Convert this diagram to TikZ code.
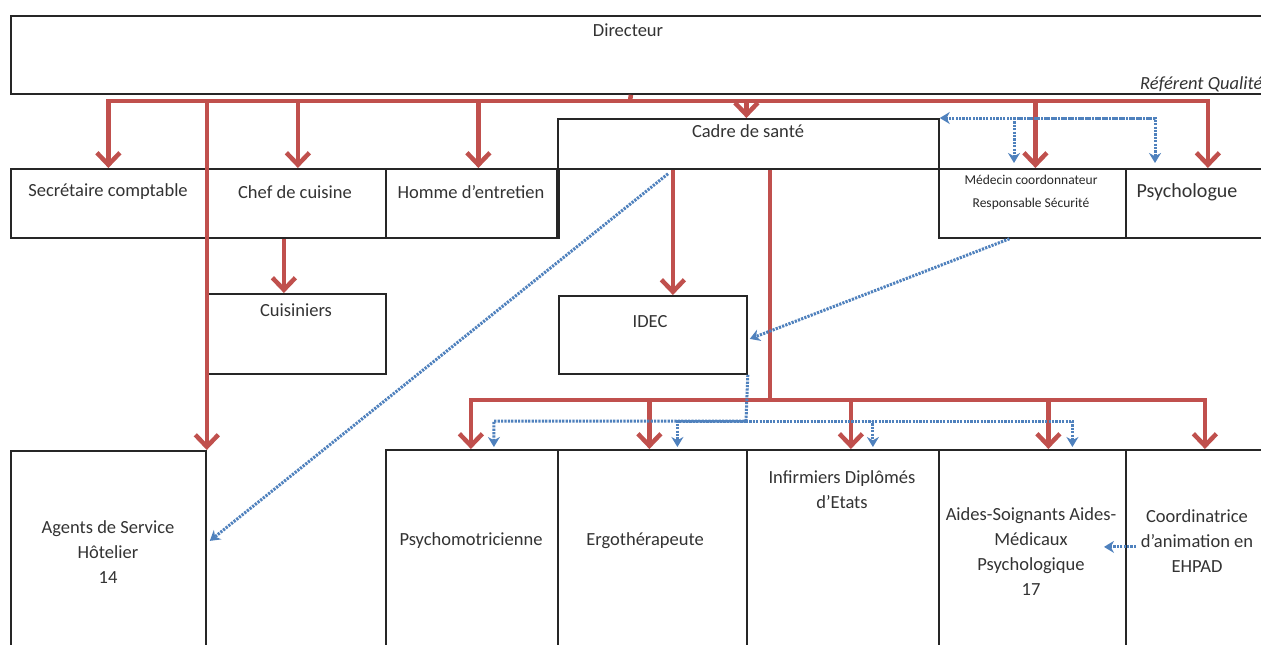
\documentclass[tikz,border=0pt]{standalone}
\usepackage{fontspec}
\setmainfont{Carlito}
\usetikzlibrary{arrows.meta,calc}
\definecolor{rd}{RGB}{192,80,77}
\definecolor{bl}{RGB}{79,129,189}
\newcommand\mkcell[5]{\node[cellbox, minimum width=#4pt, minimum height=#5pt] (#1) at (#2,#3) {};}
\begin{document}
\begin{tikzpicture}[x=1pt,y=-1pt,
 cellbox/.style={draw=black!85, line width=1.8pt, inner sep=0pt, anchor=north west},
 cellline/.style={draw=black!85, line width=1.8pt},
 lbl/.style={font=\fontsize{18.5}{25}\selectfont, text=black!80, align=center, inner sep=0pt},
 small/.style={font=\fontsize{13.5}{23}\selectfont, text=black!85, align=center, inner sep=0pt},
 redline/.style={draw=rd, line width=4.5pt},
 redarrow/.style={redline, -{Straight Barb[length=12pt,width=23pt]}},
 bluearrow/.style={draw=bl, line width=3pt, dash pattern=on 2.2pt off 1.2pt, -{Stealth[length=10pt,width=12pt]}},
]
\useasboundingbox (0,0) rectangle (1261,645);
\clip (0,0) rectangle (1261,645);
\fill[white] (0,0) rectangle (1261,645);
% cells
\mkcell{dir}{10}{15}{1260}{78}
\mkcell{sec}{10}{168}{195}{69}
\mkcell{chef}{205}{168}{180}{69}
\mkcell{hom}{385}{168}{173}{69}
\mkcell{cadre}{557}{118}{381}{50}
\node[inner sep=0pt, anchor=north west, minimum width=381pt, minimum height=69pt] (cadrebas) at (557,168) {};
\draw[cellline] (cadrebas.south west) -- (cadrebas.north west) (cadrebas.north east) -- (cadrebas.south east);
\mkcell{med}{938}{168}{187}{69}
\mkcell{psy}{1125}{168}{164}{69}
\mkcell{cuis}{205}{293}{180}{80}
\mkcell{idec}{558}{295}{188}{78}
\mkcell{agents}{10}{450}{195}{220}
\mkcell{psm}{385}{449}{172}{220}
\mkcell{ergo}{557}{449}{189}{220}
\mkcell{inf}{746}{449}{192}{220}
\mkcell{aides}{938}{449}{187}{220}
\mkcell{coord}{1125}{449}{164}{220}
% texts
\node[lbl] (tdir) at (628,30) {Directeur};
\node[lbl, anchor=west, font=\fontsize{18.5}{25}\selectfont\itshape] (tref) at (1140,84) {Référent Qualité};
\node[lbl] (tsec) at (108,192) {Secrétaire comptable};
\node[lbl] (tchef) at (295,192) {Chef de cuisine};
\node[lbl] (thom) at (471,192) {Homme d'entretien};
\node[lbl] (tcadre) at (748,131) {Cadre de santé};
\node[small] (tmed) at (1031,192) {Médecin coordonnateur\\Responsable Sécurité};
\node[lbl, font=\fontsize{20}{25}\selectfont] (tpsy) at (1187,192) {Psychologue};
\node[lbl] (tcuis) at (296,310) {Cuisiniers};
\node[lbl] (tidec) at (650,322) {IDEC};
\node[lbl] (tagents) at (108,552) {Agents de Service\\Hôtelier\\14};
\node[lbl] (tpsm) at (471,541) {Psychomotricienne};
\node[lbl] (tergo) at (645,541) {Ergothérapeute};
\node[lbl] (tinf) at (842,490) {Infirmiers Diplômés\\d'Etats};
\node[lbl] (taides) at (1031,552) {Aides-Soignants Aides-\\Médicaux\\Psychologique\\17};
\node[lbl] (tcoord) at (1197,541) {Coordinatrice\\d'animation en\\EHPAD};
% red connectors
\coordinate (bus) at (630,101);
\draw[redline] ([xshift=-10pt]dir.south) -- (bus);
\draw[redarrow] (bus) -| (sec.north);
\draw[redarrow] (bus) -| ([xshift=2pt]chef.north);
\draw[redarrow] (bus) -| ([xshift=6pt]hom.north);
\draw[redarrow] (bus) -| (agents.north east);
\draw[redarrow] (bus) -| ([xshift=-2pt]cadre.north);
\draw[redarrow] (bus) -| ([xshift=3pt]med.north);
\draw[redarrow] (bus) -| (psy.north);
\draw[redarrow] ([xshift=-12pt]cuis.north |- chef.south) -- ([xshift=-12pt]cuis.north);
\draw[redarrow] ([xshift=20pt]idec.north |- cadre.south) -- ([xshift=20pt]idec.north);
\coordinate (bus2) at (770,400);
\draw[redline] (bus2 |- cadre.south) -- (bus2);
\draw[redarrow] (bus2) -| ([xshift=-1pt]psm.north);
\draw[redarrow] (bus2) -| ([xshift=-3pt]ergo.north);
\draw[redarrow] (bus2) -| ([xshift=8pt]inf.north);
\draw[redarrow] (bus2) -| ([xshift=16pt]aides.north);
\draw[redarrow] (bus2) -| ([xshift=-3pt]coord.north);
% blue connectors
\coordinate (qa) at (1014,118);
\coordinate (qb) at (1155,118);
\draw[bluearrow] (qb) -- (cadre.north east);
\draw[bluearrow] (qa) -- ([yshift=5pt]qa |- med.north);
\draw[bluearrow] (qa) -- (qb) -- ([yshift=5pt]qb |- psy.north);
\draw[bluearrow] ([xshift=111pt,yshift=-4pt]cadre.south west) -- ([xshift=3pt,yshift=20pt]agents.east);
\draw[bluearrow] ([xshift=-23pt]med.south) -- ([xshift=2pt,yshift=-4pt]idec.east);
\coordinate (bb) at (746,421);
\draw[bluearrow] (idec.south east) -- (bb) -| ([xshift=22pt,yshift=2pt]psm.north);
\draw[bluearrow] (bb) -| ([xshift=25pt,yshift=2pt]ergo.north);
\draw[bluearrow] (bb) -| ([xshift=30pt,yshift=2pt]inf.north);
\draw[bluearrow] (bb) -| ([xshift=40pt,yshift=2pt]aides.north);
\draw[bluearrow] ([xshift=11pt,yshift=13pt]coord.west) -- ([xshift=-21pt,yshift=13pt]coord.west);
\end{tikzpicture}
\end{document}
